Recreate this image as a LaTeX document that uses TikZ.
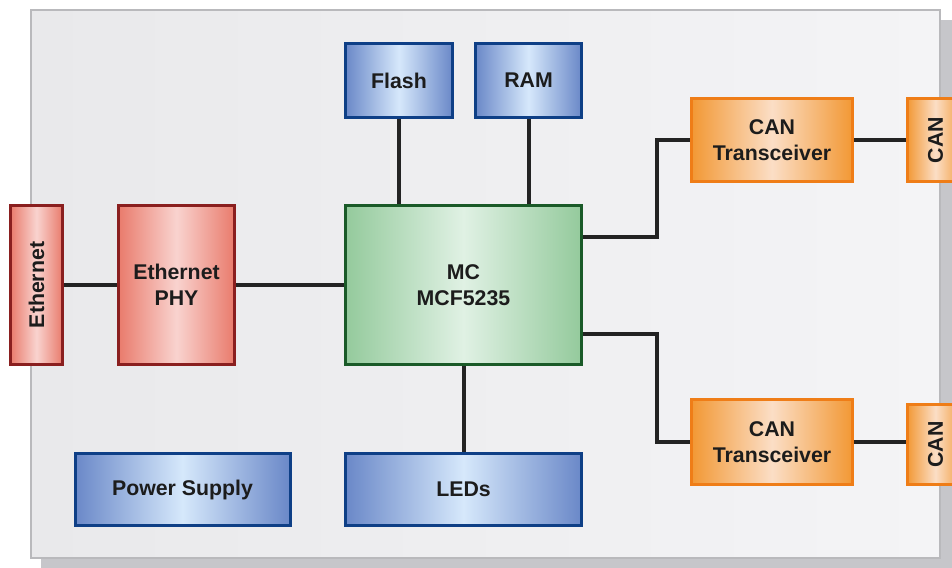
\documentclass[tikz,border=0pt]{standalone}
\usepackage{fontspec}
\setmainfont{Liberation Sans}
\usepackage{graphicx}
\definecolor{bluedge}{HTML}{6A88C8}
\definecolor{bluemid}{HTML}{D6E8FB}
\definecolor{bluebord}{HTML}{0E3F86}
\definecolor{rededge}{HTML}{E97B6C}
\definecolor{redmid}{HTML}{F9D3CF}
\definecolor{redbord}{HTML}{8A1F1F}
\definecolor{greenedge}{HTML}{94CA9C}
\definecolor{greenmid}{HTML}{E0F1E4}
\definecolor{greenbord}{HTML}{1A5A28}
\definecolor{orgedge}{HTML}{F29834}
\definecolor{orgmid}{HTML}{FBDEC6}
\definecolor{orgbord}{HTML}{EF7D17}
\definecolor{txt}{HTML}{1C1C1C}
\definecolor{wire}{HTML}{232323}
\begin{document}
\begin{tikzpicture}[x=1pt,y=-1pt,
  box/.style={draw, line width=3pt, inner sep=0pt, align=center, text=txt,
    font=\fontsize{21.3}{25.5}\selectfont\bfseries},
  bluebox/.style={box, draw=bluebord, left color=bluedge, right color=bluedge, middle color=bluemid},
  redbox/.style={box, draw=redbord, left color=rededge, right color=rededge, middle color=redmid},
  greenbox/.style={box, draw=greenbord, left color=greenedge, right color=greenedge, middle color=greenmid},
  orgbox/.style={box, draw=orgbord, left color=orgedge, right color=orgedge, middle color=orgmid},
  wirestyle/.style={draw=wire, line width=4pt}
]
\useasboundingbox (0,0) rectangle (952,567);
\clip (0,0) rectangle (952,567);
\fill[white] (0,0) rectangle (952,567);
% shadow and panel
\fill[color={rgb,255:red,198;green,198;blue,202}] (41,20) rectangle (970,580);
\shade[left color={rgb,255:red,233;green,233;blue,235}, right color={rgb,255:red,244;green,244;blue,246}]
  (31,10) rectangle (940,558);
\draw[color={rgb,255:red,185;green,185;blue,188}, line width=2pt] (31,10) rectangle (940,558);

% nodes
\node[bluebox, minimum width=107pt, minimum height=74pt] (flash) at (399,80.5) {Flash};
\node[bluebox, minimum width=106pt, minimum height=74pt] (ram) at (528.5,80.5) {RAM};
\node[greenbox, minimum width=236pt, minimum height=159pt] (mc) at (463.5,285) {MC\\MCF5235};
\node[redbox, minimum width=52pt, minimum height=159pt] (eth) at (36.5,285) {\rotatebox{90}{Ethernet}};
\node[redbox, minimum width=116pt, minimum height=159pt] (phy) at (176.5,285) {Ethernet\\PHY};
\node[bluebox, minimum width=215pt, minimum height=72pt] (power) at (182.5,489.5) {Power Supply};
\node[bluebox, minimum width=236pt, minimum height=72pt] (leds) at (463.5,489.5) {LEDs};
\node[orgbox, minimum width=161pt, minimum height=83pt] (can1) at (772,140) {CAN\\Transceiver};
\node[orgbox, minimum width=161pt, minimum height=85pt] (can2) at (772,442) {CAN\\Transceiver};
\node[orgbox, minimum width=57pt, minimum height=83pt] (canc1) at (935.5,140) {\rotatebox{90}{CAN}};
\node[orgbox, minimum width=57pt, minimum height=80pt] (canc2) at (935.5,444.5) {\rotatebox{90}{CAN}};

% connectors
\draw[wirestyle] (eth.east) -- (phy.west);
\draw[wirestyle] (phy.east) -- (mc.west);
\draw[wirestyle] (flash.south) -- (flash.south |- mc.north);
\draw[wirestyle] (ram.south) -- (ram.south |- mc.north);
\draw[wirestyle] (mc.south) -- (leds.north);
\draw[wirestyle] ([yshift=48pt]mc.east) -- ++(74,0) |- (can1.west);
\draw[wirestyle] ([yshift=-49pt]mc.east) -- ++(74,0) |- (can2.west);
\draw[wirestyle] (can1.east) -- (can1.east -| canc1.west);
\draw[wirestyle] (can2.east) -- (can2.east -| canc2.west);
\end{tikzpicture}
\end{document}
